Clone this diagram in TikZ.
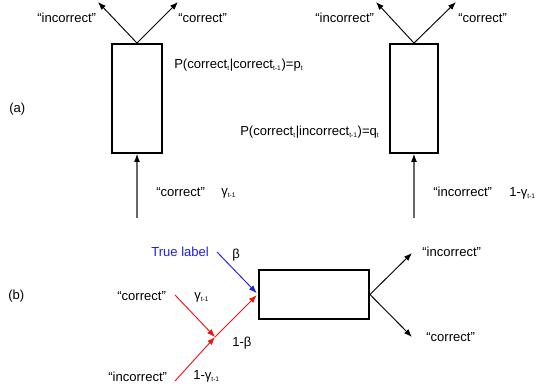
\documentclass[tikz,border=0pt]{standalone}
\usepackage{fontspec}
\setmainfont{Liberation Sans}
\usetikzlibrary{arrows.meta}
\definecolor{tlblue}{RGB}{30,30,230}
\definecolor{tlred}{RGB}{240,20,20}
\newcommand{\sbs}[1]{\textsubscript{\tiny #1}}
\begin{document}
\begin{tikzpicture}[x=0.75pt,y=-0.75pt,
  lbl/.style={inner sep=0pt,anchor=west,font=\fontsize{9.8pt}{12pt}\selectfont},
  unit/.style={draw,line width=1.4pt,inner sep=0pt,minimum width=#1},
  arr/.style={-{Latex[length=6pt,width=4.5pt]},line width=0.7pt},
  inarr/.style={-{Latex[length=6pt,width=4.5pt,color=black]},line width=0.8pt,draw=black!60}]
\useasboundingbox (0,0) rectangle (536,389);
% (a)
\node[unit=37.5pt,minimum height=81.75pt] (boxA) at (137,98.5) {};
\node[unit=36pt,minimum height=81.75pt] (boxB) at (414,98.5) {};
\coordinate (aoutL) at (98,2);
\coordinate (aoutR) at (178,2);
\coordinate (boutL) at (376,2);
\coordinate (boutR) at (456,2);
\coordinate (ainS) at (137,218);
\coordinate (binS) at (414,218);
\draw[arr] (boxA.north) -- (aoutL);
\draw[arr] (boxA.north) -- (aoutR);
\draw[arr] (boxB.north) -- (boutL);
\draw[arr] (boxB.north) -- (boutR);
\draw[inarr] (ainS) -- (boxA.south);
\draw[inarr] (binS) -- (boxB.south);
\node[lbl] (a1) at (37,18) {“incorrect”};
\node[lbl] (a2) at (178,18) {“correct”};
\node[lbl] (a3) at (315,18) {“incorrect”};
\node[lbl] (a4) at (458,18) {“correct”};
\node[lbl] (pa) at (174,65) {P(correct\sbs{t}|correct\sbs{t-1})=p\sbs{t}};
\node[lbl] (qa) at (240,132) {P(correct\sbs{t}|incorrect\sbs{t-1})=q\sbs{t}};
\node[lbl] (la) at (9,109) {(a)};
\node[lbl] (a5) at (156,192) {“correct”};
\node[lbl] (a6) at (221,193) {γ\sbs{t-1}};
\node[lbl] (a7) at (433,192) {“incorrect”};
\node[lbl] (a8) at (509,193) {1-γ\sbs{t-1}};
% (b)
\node[unit=82.5pt,minimum height=36.75pt] (boxC) at (314,294.5) {};
\node[lbl] (lb) at (8,296) {(b)};
\node[lbl,text=tlblue] (tl) at (151,252) {True label};
\node[lbl] (beta) at (232,255) {β};
\node[lbl] (b1) at (117,296) {“correct”};
\node[lbl] (b2) at (194,297) {γ\sbs{t-1}};
\node[lbl] (b3) at (232,343) {1-β};
\node[lbl] (b4) at (108,377) {“incorrect”};
\node[lbl] (b5) at (193,376) {1-γ\sbs{t-1}};
\node[lbl] (b6) at (422,252) {“incorrect”};
\node[lbl] (b7) at (426,337) {“correct”};
\coordinate (tls) at (217,252);
\coordinate (cs) at (175,295);
\coordinate (is) at (175,381);
\coordinate (mid) at (215,337);
\coordinate (coutU) at (412,253);
\coordinate (coutD) at (412,337);
\draw[arr,tlblue] (tls) -- ([xshift=-1pt,yshift=1pt]boxC.west);
\draw[arr,tlred] (cs) -- (mid);
\draw[arr,tlred] (is) -- (mid);
\draw[arr,tlred] (mid) -- ([xshift=-1pt,yshift=-0.5pt]boxC.west);
\draw[arr] (boxC.east) -- (coutU);
\draw[arr] (boxC.east) -- (coutD);
\end{tikzpicture}
\end{document}
